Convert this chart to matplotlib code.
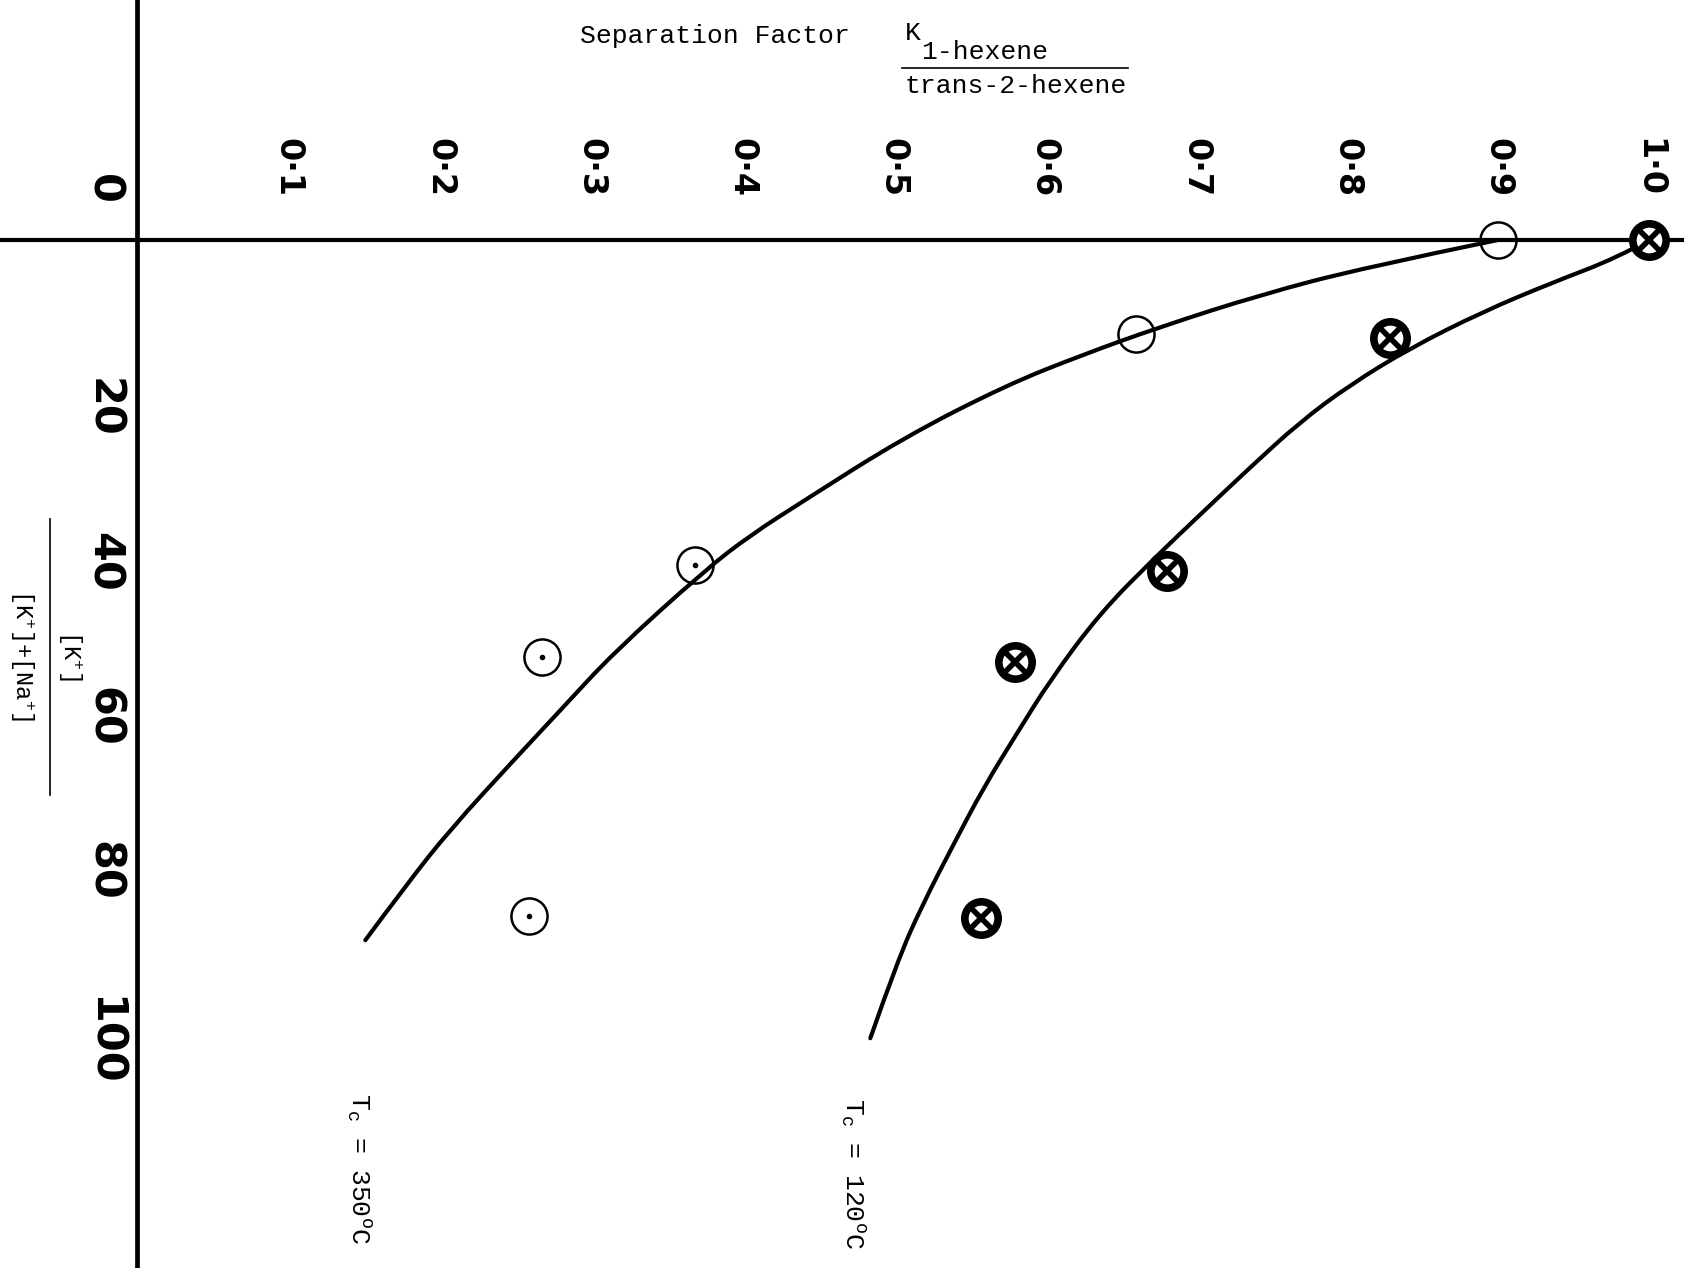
"""Separation factor of 1-hexene / trans-2-hexene against potassium fraction
"""
import matplotlib
matplotlib.use('Agg')
import matplotlib.pyplot as plt
from matplotlib.lines import Line2D
from matplotlib.path import Path
from matplotlib.patches import PathPatch
from matplotlib.transforms import ScaledTranslation

# measured points, Tc = 350 C (open circles)
sep_350 = [0.90, 0.661, 0.369, 0.268, 0.259]
kfrac_350 = [0.0, 12.2, 42.1, 54.0, 87.6]
dot_350 = [False, False, True, True, True]

# measured points, Tc = 120 C (crossed circles)
sep_120 = [1.00, 0.829, 0.681, 0.581, 0.558]
kfrac_120 = [0.0, 12.7, 42.9, 54.7, 87.8]

# hand drawn trend curves
curve_350_x = [0.900, 0.811, 0.743, 0.676, 0.625, 0.575, 0.507, 0.440,
               0.406, 0.376, 0.315, 0.282, 0.250, 0.207, 0.179, 0.151]
curve_350_y = [0.0, 3.6, 7.1, 11.3, 14.9, 18.8, 25.6, 33.9,
               38.2, 42.7, 53.5, 60.5, 67.2, 76.4, 83.3, 90.7]
curve_120_x = [1.000, 0.979, 0.935, 0.890, 0.842, 0.802, 0.769, 0.736, 0.703,
               0.674, 0.637, 0.604, 0.582, 0.560, 0.540, 0.520, 0.503, 0.485]
curve_120_y = [0.0, 2.3, 5.6, 9.3, 14.0, 18.8, 23.6, 29.5, 35.6,
               41.0, 48.3, 57.0, 63.9, 70.9, 78.3, 85.9, 93.3, 103.4]

x_ticks = [0.1, 0.2, 0.3, 0.4, 0.5, 0.6, 0.7, 0.8, 0.9, 1.0]
x_tick_labels = ['0·1', '0·2', '0·3', '0·4', '0·5',
                 '0·6', '0·7', '0·8', '0·9', '1·0']
y_ticks = [0, 20, 40, 60, 80, 100]
y_tick_labels = ['0', '20', '40', '60', '80', '100']

W, H = 1684, 1268

plt.rcParams['mathtext.fontset'] = 'custom'
plt.rcParams['mathtext.rm'] = 'Liberation Mono'
plt.rcParams['mathtext.it'] = 'Liberation Mono'
plt.rcParams['mathtext.tt'] = 'Liberation Mono'


def fxy(px, py):
    """pixel position (from top left) to figure fraction"""
    return px / W, 1 - py / H


def smooth_curve(ax, xs, ys, **kwargs):
    """Draw a freehand-like curve through the read points (quadratic bezier)
    """
    pts = list(zip(xs, ys))
    verts = [pts[0]]
    codes = [Path.MOVETO]
    for i in range(1, len(pts) - 2):
        mid = ((pts[i][0] + pts[i + 1][0]) / 2, (pts[i][1] + pts[i + 1][1]) / 2)
        verts += [pts[i], mid]
        codes += [Path.CURVE3, Path.CURVE3]
    verts += [pts[-2], pts[-1]]
    codes += [Path.CURVE3, Path.CURVE3]
    patch = PathPatch(Path(verts, codes), facecolor='none', **kwargs)
    ax.add_patch(patch)
    return patch


fig = plt.figure(figsize=(W / 100, H / 100), dpi=100)
ax = fig.add_axes([0, 0, 1, 1])
ax.set_xlim(-137 / 1512, (W - 137) / 1512)
ax.set_ylim((H - 240) / 7.72, -240 / 7.72)

# curves
smooth_curve(ax, curve_350_x, curve_350_y, edgecolor='k', lw=3,
             capstyle='round', joinstyle='round', zorder=2)
smooth_curve(ax, curve_120_x, curve_120_y, edgecolor='k', lw=3,
             capstyle='round', joinstyle='round', zorder=2)

# Tc = 350 points
ax.plot(sep_350, kfrac_350, 'o', ms=26, mfc='none', mec='k', mew=1.8,
        zorder=4)
ax.plot([x for x, d in zip(sep_350, dot_350) if d],
        [y for y, d in zip(kfrac_350, dot_350) if d],
        'o', ms=3, color='k', zorder=4)

# Tc = 120 points
ax.plot(sep_120, kfrac_120, 'o', ms=24, mfc='white', mec='k', mew=5.5,
        zorder=4)
ax.plot(sep_120, kfrac_120, 'x', ms=16, mec='k', mew=4, zorder=5)

# axes drawn through the origin
for side in ['right', 'bottom']:
    ax.spines[side].set_visible(False)
ax.spines['left'].set_position(('data', 0))
ax.spines['top'].set_position(('data', 0))
ax.spines['left'].set_linewidth(3.4)
ax.spines['top'].set_linewidth(3.0)

ax.xaxis.tick_top()
ax.set_xticks(x_ticks, x_tick_labels)
ax.tick_params(axis='x', length=0, pad=31, labelsize=24, labelrotation=-90)
ax.set_yticks(y_ticks, y_tick_labels)
ax.tick_params(axis='y', length=0, pad=9, labelsize=31, labelrotation=-90)
for lbl in ax.get_xticklabels() + ax.get_yticklabels():
    lbl.set_fontweight('bold')
    lbl.set_fontfamily('DejaVu Sans')

# the '0' sits above the horizontal axis
zero_lbl = ax.get_yticklabels()[0]
zero_lbl.set_va('bottom')
zero_lbl.set_transform(zero_lbl.get_transform() +
                       ScaledTranslation(0, 0.36, fig.dpi_scale_trans))

# title: separation factor
mono = dict(family='Liberation Mono', color='k')
fig.text(*fxy(580, 36), 'Separation Factor', size=19, ha='left',
         va='center', **mono)
fig.text(*fxy(905, 33), 'K', size=19, ha='left', va='center', **mono)
fig.text(*fxy(921, 52), '1-hexene', size=19, ha='left', va='center', **mono)
fig.text(*fxy(905, 86), 'trans-2-hexene', size=19, ha='left', va='center',
         **mono)
fig.add_artist(Line2D([902 / W, 1128 / W], [1 - 68 / H, 1 - 68 / H],
                      color='k', lw=1.2))

# y label: [K+] / ([K+] + [Na+])
fig.text(*fxy(70, 655), '[K$^{+}$]', size=17, rotation=-90, ha='center',
         va='center', **mono)
fig.text(*fxy(22, 655), '[K$^{+}$]+[Na$^{+}$]', size=17, rotation=-90,
         ha='center', va='center', **mono)
fig.add_artist(Line2D([50 / W, 50 / W], [1 - 519 / H, 1 - 795 / H],
                      color='k', lw=1.2))

# curve labels
fig.text(*fxy(358, 1093), r'T$_{\mathrm{c}}$ = 350$^{\mathrm{o}}$C', size=19,
         rotation=-90, ha='center', va='top', **mono)
fig.text(*fxy(852, 1098), r'T$_{\mathrm{c}}$ = 120$^{\mathrm{o}}$C', size=19,
         rotation=-90, ha='center', va='top', **mono)

fig.savefig('out.png', dpi=100)
